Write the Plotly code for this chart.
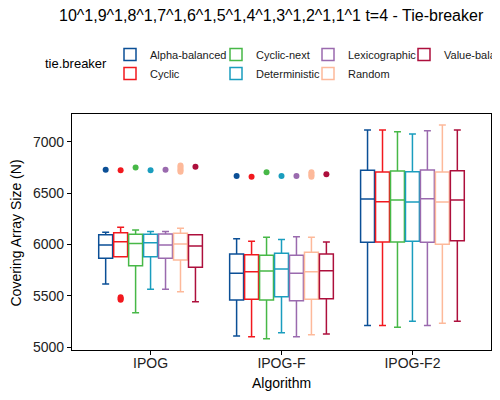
import plotly.graph_objects as go

algorithms = ["IPOG", "IPOG-F", "IPOG-F2"]
tie_breakers = ["Alpha-balanced", "Cyclic", "Cyclic-next", "Deterministic",
                "Lexicographic", "Random", "Value-balanced"]
colors = ["#0B4F96", "#F2181E", "#47B847", "#1A9DBE", "#9A6AAE", "#FDB99A", "#AD0F3C"]

# per tie-breaker: values for [IPOG, IPOG-F, IPOG-F2]
q1 = {
    "Alpha-balanced": [5865, 5459, 6021],
    "Cyclic": [5881, 5465, 6024],
    "Cyclic-next": [5793, 5459, 6024],
    "Deterministic": [5881, 5491, 6031],
    "Lexicographic": [5865, 5452, 6021],
    "Random": [5849, 5465, 6002],
    "Value-balanced": [5778, 5472, 6037],
}
median = {
    "Alpha-balanced": [5995, 5719, 6444],
    "Cyclic": [6028, 5735, 6418],
    "Cyclic-next": [6011, 5741, 6434],
    "Deterministic": [6018, 5761, 6415],
    "Lexicographic": [5995, 5719, 6447],
    "Random": [6005, 5735, 6415],
    "Value-balanced": [5985, 5745, 6434],
}
q3 = {
    "Alpha-balanced": [6096, 5907, 6724],
    "Cyclic": [6115, 5900, 6707],
    "Cyclic-next": [6100, 5894, 6717],
    "Deterministic": [6100, 5914, 6710],
    "Lexicographic": [6102, 5894, 6727],
    "Random": [6109, 5924, 6707],
    "Value-balanced": [6096, 5907, 6720],
}
lower = {
    "Alpha-balanced": [5615, 5107, 5211],
    "Cyclic": [5881, 5101, 5211],
    "Cyclic-next": [5335, 5081, 5192],
    "Deterministic": [5563, 5140, 5251],
    "Lexicographic": [5563, 5101, 5211],
    "Random": [5540, 5120, 5231],
    "Value-balanced": [5442, 5127, 5251],
}
upper = {
    "Alpha-balanced": [6119, 6057, 7117],
    "Cyclic": [6168, 6031, 7117],
    "Cyclic-next": [6141, 6070, 7101],
    "Deterministic": [6128, 6050, 7078],
    "Lexicographic": [6128, 6076, 7110],
    "Random": [6158, 6070, 7166],
    "Value-balanced": [6096, 6024, 7117],
}
# outliers: (algorithm, value) pairs
outlier_alg = {
    "Alpha-balanced": ["IPOG", "IPOG-F"],
    "Cyclic": ["IPOG", "IPOG", "IPOG", "IPOG", "IPOG-F"],
    "Cyclic-next": ["IPOG", "IPOG-F"],
    "Deterministic": ["IPOG", "IPOG-F"],
    "Lexicographic": ["IPOG", "IPOG-F"],
    "Random": ["IPOG"] * 5 + ["IPOG-F"] * 4,
    "Value-balanced": ["IPOG", "IPOG-F"],
}
outlier_val = {
    "Alpha-balanced": [6730, 6668],
    "Cyclic": [6724, 5460, 5472, 5486, 6662],
    "Cyclic-next": [6750, 6704],
    "Deterministic": [6724, 6668],
    "Lexicographic": [6730, 6668],
    "Random": [6710, 6725, 6740, 6755, 6770, 6660, 6675, 6690, 6705],
    "Value-balanced": [6759, 6685],
}

# legend column layout (column-major like the reference)
legend_of = {"Alpha-balanced": "legend", "Cyclic": "legend",
             "Cyclic-next": "legend2", "Deterministic": "legend2",
             "Lexicographic": "legend3", "Random": "legend3",
             "Value-balanced": "legend4"}

fig = go.Figure()
for tb, col in zip(tie_breakers, colors):
    fig.add_trace(go.Box(
        name=tb, legendgroup=tb, offsetgroup=tb,
        x=algorithms,
        q1=q1[tb], median=median[tb], q3=q3[tb],
        lowerfence=lower[tb], upperfence=upper[tb],
        boxpoints=False,
        line=dict(color=col, width=1.5),
        fillcolor="white",
        legend=legend_of[tb],
        hoverinfo="skip",
    ))
for tb, col in zip(tie_breakers, colors):
    fig.add_trace(go.Scatter(
        name=tb, legendgroup=tb, offsetgroup=tb, showlegend=False,
        x=outlier_alg[tb], y=outlier_val[tb], mode="markers",
        marker=dict(color=col, size=6),
        hoverinfo="skip",
    ))

font_family = "Liberation Sans, Arial, sans-serif"
legend_common = dict(orientation="v", yref="container", xref="container",
                     yanchor="top", xanchor="left", bgcolor="rgba(0,0,0,0)",
                     font=dict(size=11, color="#1a1a1a", family=font_family),
                     tracegroupgap=0, itemclick=False)
W, H = 500, 400
def lx(px):
    return px / W
def ly(py):
    return 1 - py / H

ML, MT, MR, MB = 64, 106, 17, 58
PW, PH = W - ML - MR, H - MT - MB
def px_x(fx):
    return (fx - ML) / PW
def px_y(fy):
    return (MT + PH - fy) / PH

fig.update_layout(
    template="none",
    width=W, height=H,
    margin=dict(l=ML, r=MR, t=MT, b=MB, autoexpand=False),
    paper_bgcolor="white", plot_bgcolor="white",
    font=dict(family=font_family, color="black"),
    boxmode="group", boxgap=0.2, boxgroupgap=0.07,
    scattermode="group", scattergap=0.2,
    title=dict(text="10^1,9^1,8^1,7^1,6^1,5^1,4^1,3^1,2^1,1^1 t=4 - Tie-breaker",
               x=lx(51), xref="container", xanchor="left",
               y=ly(7.5), yref="container", yanchor="middle",
               font=dict(size=16, color="black", family=font_family)),
    legend=dict(**legend_common, x=lx(102), y=ly(32)),
    legend2=dict(**legend_common, x=lx(208), y=ly(32)),
    legend3=dict(**legend_common, x=lx(300), y=ly(32)),
    legend4=dict(**legend_common, x=lx(396), y=ly(32)),
    xaxis=dict(
        type="category", automargin=False,
        categoryorder="array", categoryarray=algorithms,
        range=[-0.6, 2.6],
        showline=True, linecolor="black", linewidth=1.3, mirror=True,
        ticks="outside", ticklen=4, tickcolor="black", tickwidth=1,
        ticklabelstandoff=-4,
        tickfont=dict(size=14, color="#222222"),
        showgrid=False, zeroline=False,
    ),
    yaxis=dict(
        type="linear", automargin=False,
        range=[4971, 7273],
        tickvals=[5000, 5500, 6000, 6500, 7000],
        showline=True, linecolor="black", linewidth=1.3, mirror=True,
        ticks="outside", ticklen=4, tickcolor="black", tickwidth=1,
        tickfont=dict(size=14, color="#222222"),
        showgrid=False, zeroline=False,
    ),
    annotations=[
        dict(text="tie.breaker", xref="paper", yref="paper",
             x=px_x(35), y=px_y(56),
             xanchor="left", yanchor="middle", showarrow=False,
             font=dict(size=13, color="black", family=font_family)),
        dict(text="Algorithm", xref="paper", yref="paper",
             x=0.5, y=px_y(375),
             xanchor="center", yanchor="middle", showarrow=False,
             font=dict(size=14, color="black", family=font_family)),
        dict(text="Covering Array Size (N)", xref="paper", yref="paper",
             x=px_x(7), y=px_y(225.5), textangle=-90,
             xanchor="center", yanchor="middle", showarrow=False,
             font=dict(size=14, color="black", family=font_family)),
    ],
)

fig.write_html("out.html")
